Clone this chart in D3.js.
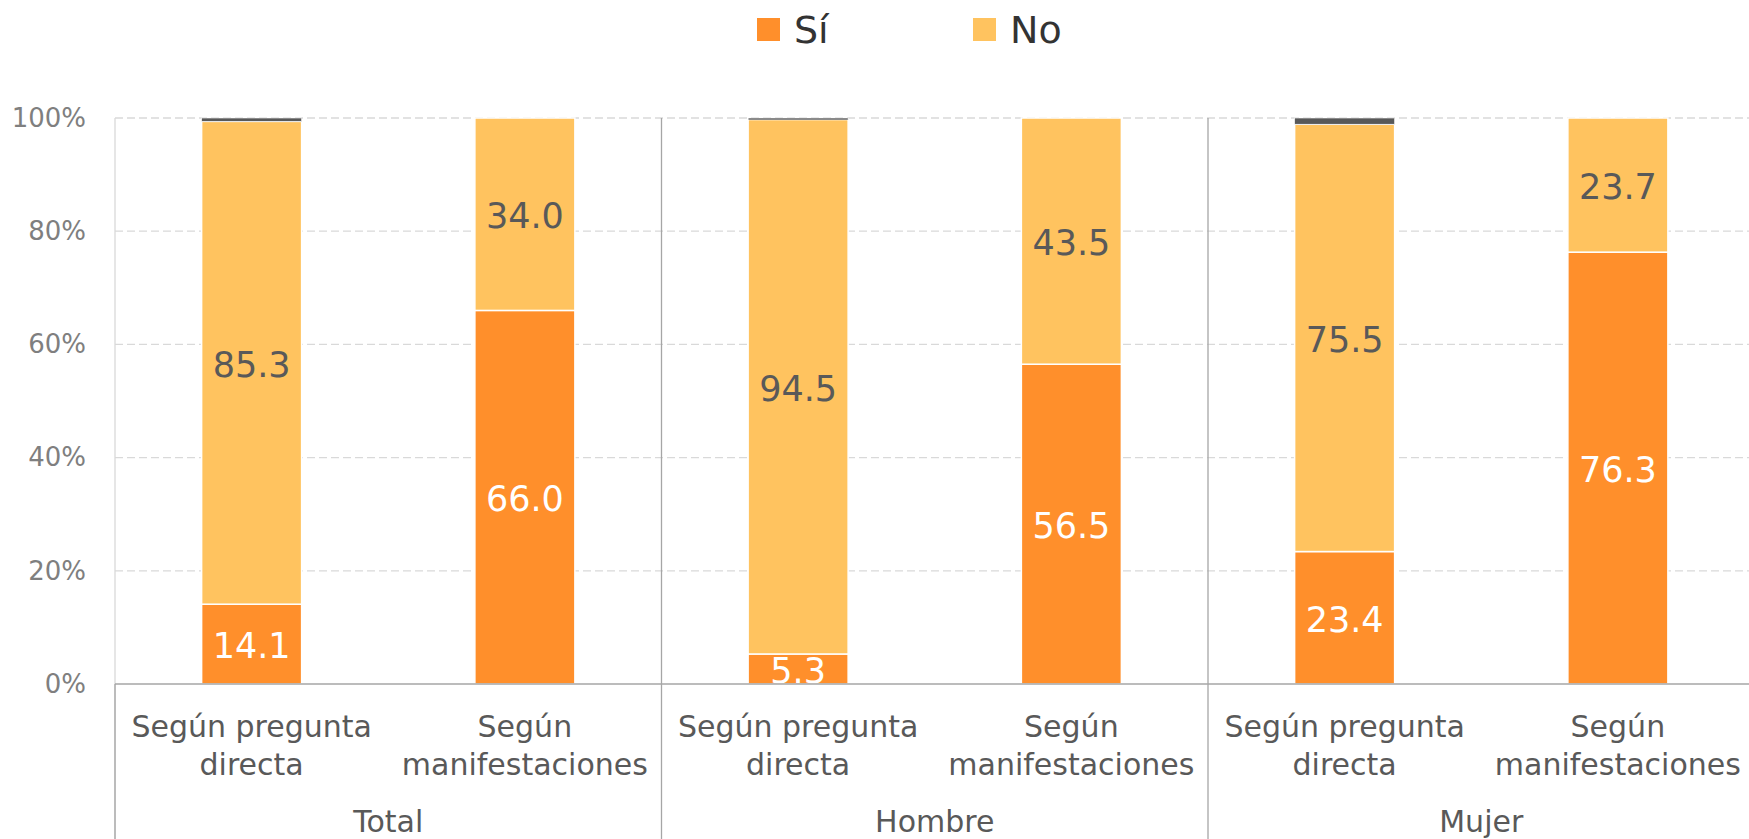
<!DOCTYPE html>
<html>
<head>
<meta charset="utf-8">
<script src="https://cdn.jsdelivr.net/npm/d3@7/dist/d3.min.js"></script>
<style>
  html, body { margin: 0; padding: 0; background: #fff; }
  svg { display: block; font-family: "DejaVu Sans", sans-serif; }
</style>
</head>
<body>
<svg id="chart" width="1749" height="839"></svg>
<script>
// Groups and the two measurement methods inside each group
const groups = ["Total", "Hombre", "Mujer"];
const methods = ["directa", "manifestaciones"];
const methodLabels = [["Según pregunta", "directa"], ["Según", "manifestaciones"]];

// Percentages per bar, ordered Total, Hombre, Mujer × (directa, manifestaciones)
const siValues = [14.1, 66.0, 5.3, 56.5, 23.4, 76.3];
const noValues = [85.3, 34.0, 94.5, 43.5, 75.5, 23.7];
const nsValues = [0.6, 0.0, 0.2, 0.0, 1.1, 0.0];

const yTicks = [0, 20, 40, 60, 80, 100];

const seriesNames = ["Sí", "No", "NS"];
const seriesColors = { "Sí": "#FF8F2B", "No": "#FFC35F", "NS": "#595959" };
const labelColors = { "Sí": "#ffffff", "No": "#595959" };

const rows = [];
groups.forEach((g, gi) => {
  methods.forEach((m, mi) => {
    const i = gi * methods.length + mi;
    rows.push({ group: g, method: m, "Sí": siValues[i], "No": noValues[i], "NS": nsValues[i] });
  });
});

const svg = d3.select("#chart");
const plotLeft = 115, plotTop = 118, plotBottom = 684;
const groupWidth = 546.5;

const x0 = d3.scaleBand().domain(groups).range([plotLeft, plotLeft + groupWidth * groups.length]);
const x1 = d3.scaleBand().domain(methods).range([0, x0.bandwidth()])
  .paddingInner(0.634).paddingOuter(0.317);
const y = d3.scaleLinear().domain([0, 100]).range([plotBottom, plotTop]);

// Horizontal gridlines
svg.append("g")
  .selectAll("line")
  .data(yTicks.filter(t => t > 0))
  .join("line")
  .attr("x1", plotLeft).attr("x2", 1749)
  .attr("y1", d => y(d)).attr("y2", d => y(d))
  .attr("stroke", "#d9d9d9")
  .attr("stroke-width", 1.3)
  .attr("stroke-dasharray", "8,4");

// Y axis tick labels
const yAxis = d3.axisLeft(y).tickValues(yTicks).tickFormat(d => d + "%").tickSize(0).tickPadding(0);
const yg = svg.append("g").attr("transform", `translate(${plotLeft - 29},0)`).call(yAxis);
yg.select(".domain").remove();
yg.selectAll("text")
  .attr("font-family", "DejaVu Sans, sans-serif")
  .attr("font-size", 26)
  .attr("fill", "#7f7f7f");

// Stacked bars
const stack = d3.stack().keys(seriesNames);
const stacked = stack(rows);

const barG = svg.append("g");
stacked.forEach(layer => {
  const key = layer.key;
  barG.append("g")
    .selectAll("rect")
    .data(layer.map((d, i) => ({ d, row: rows[i] })).filter(o => o.d[1] - o.d[0] > 0))
    .join("rect")
    .attr("x", o => x0(o.row.group) + x1(o.row.method))
    .attr("width", x1.bandwidth())
    .attr("y", o => y(o.d[1]))
    .attr("height", o => Math.max(y(o.d[0]) - y(o.d[1]), key === "NS" ? 2 : 0))
    .attr("fill", seriesColors[key])
    .attr("stroke", "#ffffff")
    .attr("stroke-width", key === "NS" ? 0.6 : 1.5);
});

// Value labels inside Sí and No segments
stacked.filter(l => l.key !== "NS").forEach(layer => {
  const key = layer.key;
  barG.append("g")
    .selectAll("text")
    .data(layer.map((d, i) => ({ d, row: rows[i] })))
    .join("text")
    .attr("x", o => x0(o.row.group) + x1(o.row.method) + x1.bandwidth() / 2)
    .attr("y", o => y((o.d[0] + o.d[1]) / 2))
    .attr("dy", "0.4em")
    .attr("text-anchor", "middle")
    .attr("font-size", 35)
    .attr("fill", labelColors[key])
    .text(o => o.row[key].toFixed(1));
});

// Left border of the plot area
svg.append("line")
  .attr("x1", plotLeft).attr("x2", plotLeft)
  .attr("y1", plotTop).attr("y2", plotBottom)
  .attr("stroke", "#d9d9d9").attr("stroke-width", 1.3);

// Category axis baseline
svg.append("line")
  .attr("x1", plotLeft).attr("x2", 1749)
  .attr("y1", plotBottom).attr("y2", plotBottom)
  .attr("stroke", "#a6a6a6").attr("stroke-width", 1.5);

// Group separators
svg.append("line")
  .attr("x1", plotLeft).attr("x2", plotLeft)
  .attr("y1", plotBottom).attr("y2", 839)
  .attr("stroke", "#a6a6a6").attr("stroke-width", 1.5);
svg.append("g")
  .selectAll("line")
  .data(groups.slice(1))
  .join("line")
  .attr("x1", d => x0(d)).attr("x2", d => x0(d))
  .attr("y1", plotTop).attr("y2", 839)
  .attr("stroke", "#a6a6a6").attr("stroke-width", 1.3);

// Method labels (two lines)
const catG = svg.append("g");
groups.forEach(g => {
  methods.forEach((m, mi) => {
    const cx = x0(g) + x1(m) + x1.bandwidth() / 2;
    catG.append("text")
      .attr("x", cx).attr("y", 737)
      .attr("text-anchor", "middle")
      .attr("font-size", 30)
      .attr("fill", "#595959")
      .selectAll("tspan")
      .data(methodLabels[mi])
      .join("tspan")
      .attr("x", cx)
      .attr("dy", (d, i) => i === 0 ? 0 : 38)
      .text(d => d);
  });
});

// Group labels
svg.append("g")
  .selectAll("text")
  .data(groups)
  .join("text")
  .attr("x", d => x0(d) + x0.bandwidth() / 2)
  .attr("y", 832)
  .attr("text-anchor", "middle")
  .attr("font-size", 30)
  .attr("fill", "#595959")
  .text(d => d);

// Legend
const legendItems = [
  { name: "Sí", x: 757 },
  { name: "No", x: 973 }
];
const lg = svg.append("g");
legendItems.forEach(it => {
  lg.append("rect")
    .attr("x", it.x).attr("y", 18)
    .attr("width", 23).attr("height", 23)
    .attr("fill", seriesColors[it.name]);
  lg.append("text")
    .attr("x", it.x + 37).attr("y", 43)
    .attr("font-size", 38)
    .attr("fill", "#333333")
    .text(it.name);
});
</script>
</body>
</html>
